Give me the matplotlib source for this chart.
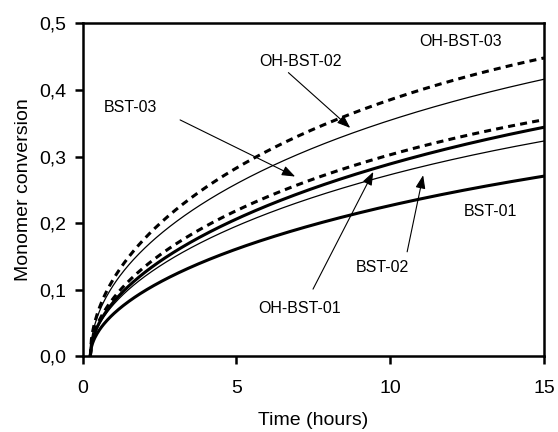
import matplotlib
matplotlib.use("Agg")
import matplotlib.pyplot as plt
import numpy as np
from matplotlib.ticker import FuncFormatter

plt.rcParams['font.family'] = ['Liberation Sans', 'DejaVu Sans']

# time points (hours)
time = [0.25, 0.5, 1, 2, 3.5, 5, 7.5, 10, 12.5, 15]
oh_bst_03 = [0.0, 0.067, 0.115, 0.176, 0.235, 0.288, 0.340, 0.383, 0.420, 0.449]
oh_bst_02 = [0.0, 0.063, 0.110, 0.160, 0.215, 0.260, 0.310, 0.358, 0.390, 0.414]
bst_03    = [0.0, 0.052, 0.090, 0.133, 0.177, 0.220, 0.268, 0.303, 0.333, 0.354]
oh_bst_01 = [0.0, 0.049, 0.084, 0.125, 0.167, 0.205, 0.253, 0.292, 0.320, 0.342]
bst_02    = [0.0, 0.046, 0.079, 0.119, 0.160, 0.195, 0.240, 0.273, 0.302, 0.322]
bst_01    = [0.0, 0.038, 0.065, 0.098, 0.132, 0.160, 0.195, 0.230, 0.253, 0.268]

x_ticks = [0, 5, 10, 15]
y_ticks = [0.0, 0.1, 0.2, 0.3, 0.4, 0.5]


def smooth(t, y):
    """Least-squares smoothing curve through the read points (in sqrt-time)."""
    t = np.asarray(t, float); y = np.asarray(y, float)
    s = np.sqrt(t - t[0])
    A = np.vstack([s, s**2, s**3]).T
    coef, *_ = np.linalg.lstsq(A, y, rcond=None)
    tt = np.linspace(t[0], t[-1], 400)
    ss = np.sqrt(tt - t[0])
    return tt, np.vstack([ss, ss**2, ss**3]).T @ coef


fig = plt.figure(figsize=(5.58, 4.32), dpi=100)
ax = fig.add_axes([0.148, 0.175, 0.827, 0.771])

dash = (0, (2.3, 1.7))
for y, lw, ls in [(oh_bst_03, 2.2, dash), (oh_bst_02, 0.9, '-'), (bst_03, 2.2, dash),
                  (oh_bst_01, 2.2, '-'), (bst_02, 0.9, '-'), (bst_01, 2.2, '-')]:
    tt, yy = smooth(time, y)
    ax.plot(tt, yy, color='black', lw=lw, linestyle=ls)

ax.set_xlim(0, 15)
ax.set_ylim(0, 0.5)
ax.set_xticks(x_ticks)
ax.set_yticks(y_ticks)
ax.yaxis.set_major_formatter(FuncFormatter(lambda v, p: f"{v:.1f}".replace('.', ',')))
ax.xaxis.set_major_formatter(FuncFormatter(lambda v, p: f"{v:g}"))
for s in ax.spines.values():
    s.set_linewidth(1.8)
ax.tick_params(direction='out', length=6, width=1.8, labelsize=14, pad=6)
ax.tick_params(axis='x', pad=11)
ax.set_xlabel('Time (hours)', fontsize=14, labelpad=11)
ax.set_ylabel('Monomer conversion', fontsize=14, labelpad=5)

ap = dict(arrowstyle='-|>,head_length=0.8,head_width=0.3', color='black', lw=0.8,
          shrinkA=0, shrinkB=0)
fs = 11.5
ax.text(12.3, 0.472, 'OH-BST-03', fontsize=fs, ha='center', va='center')
ax.text(7.07, 0.442, 'OH-BST-02', fontsize=fs, ha='center', va='center')
ax.text(1.54, 0.373, 'BST-03', fontsize=fs, ha='center', va='center')
ax.text(13.25, 0.217, 'BST-01', fontsize=fs, ha='center', va='center')
ax.text(9.74, 0.133, 'BST-02', fontsize=fs, ha='center', va='center')
ax.text(7.04, 0.072, 'OH-BST-01', fontsize=fs, ha='center', va='center')

ax.annotate('', xy=(8.70, 0.343), xytext=(6.69, 0.426), arrowprops=ap)
ax.annotate('', xy=(6.91, 0.270), xytext=(3.17, 0.355), arrowprops=ap)
ax.annotate('', xy=(9.45, 0.277), xytext=(7.49, 0.101), arrowprops=ap)
ax.annotate('', xy=(11.07, 0.272), xytext=(10.55, 0.157), arrowprops=ap)

fig.savefig('out.png', dpi=100)
